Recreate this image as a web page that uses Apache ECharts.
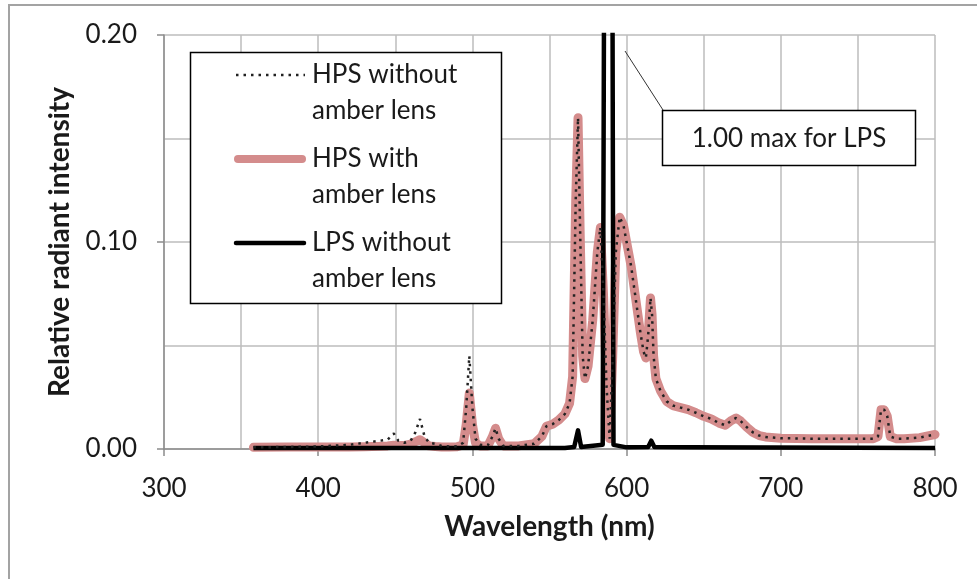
<!DOCTYPE html>
<html>
<head>
<meta charset="utf-8">
<script src="https://cdn.jsdelivr.net/npm/echarts@6/dist/echarts.min.js"></script>
<style>
html, body { margin: 0; padding: 0; background: #fff; }
#chart { width: 977px; height: 579px; }
</style>
</head>
<body>
<div id="chart"></div>
<script>
// wavelengths (nm) shared by the two HPS curves
var hpsNm = [358, 380, 400, 420, 430, 440, 445, 449, 452, 456,
    460, 463, 466, 469, 472, 476, 480, 485, 490, 494,
    496, 498, 500, 502, 505, 510, 513, 515, 517, 520,
    530, 540, 545, 548, 552, 556, 560, 563, 565, 567,
    568.5, 570, 571.5, 573, 575, 578, 581, 583, 585, 587,
    589, 591, 593, 595.5, 598, 600, 603, 606, 609, 611,
    612.5, 614, 615.5, 616.5, 617.5, 619, 622, 626, 630, 635,
    640, 645, 650, 655, 660, 664, 668, 671, 674, 678,
    682, 686, 690, 700, 720, 740, 760, 763, 765, 767,
    769, 771, 775, 780, 790, 800];

var hpsWithout = [0.0008, 0.001, 0.0012, 0.002, 0.003, 0.004, 0.0045, 0.0075, 0.004, 0.003,
    0.004, 0.008, 0.0145, 0.006, 0.003, 0.0025, 0.0015, 0.0012, 0.0013, 0.003,
    0.02, 0.045, 0.02, 0.005, 0.002, 0.0018, 0.006, 0.010, 0.005, 0.0015,
    0.0015, 0.0025, 0.006, 0.011, 0.012, 0.014, 0.017, 0.022, 0.035, 0.12,
    0.16, 0.10, 0.045, 0.034, 0.04, 0.062, 0.095, 0.107, 0.075, 0.03,
    0.005, 0.045, 0.095, 0.112, 0.108, 0.1, 0.088, 0.072, 0.056, 0.047,
    0.044, 0.055, 0.073, 0.065, 0.045, 0.034, 0.028, 0.023, 0.021, 0.02,
    0.019, 0.0175, 0.0158, 0.0145, 0.0125, 0.0115, 0.0138, 0.015, 0.0135, 0.0105,
    0.008, 0.0065, 0.0058, 0.0052, 0.005, 0.005, 0.005, 0.006, 0.019, 0.019,
    0.016, 0.006, 0.005, 0.005, 0.0055, 0.007];

var hpsWith = [0.0008, 0.001, 0.001, 0.001, 0.0011, 0.0013, 0.0015, 0.0018, 0.0017, 0.0017,
    0.0024, 0.0035, 0.0045, 0.003, 0.0015, 0.0012, 0.001, 0.001, 0.0011, 0.002,
    0.012, 0.027, 0.012, 0.003, 0.0015, 0.0015, 0.006, 0.010, 0.005, 0.0015,
    0.0015, 0.0025, 0.006, 0.011, 0.012, 0.014, 0.017, 0.022, 0.035, 0.12,
    0.16, 0.10, 0.045, 0.034, 0.04, 0.062, 0.095, 0.107, 0.075, 0.03,
    0.005, 0.045, 0.095, 0.112, 0.108, 0.1, 0.088, 0.072, 0.056, 0.047,
    0.044, 0.055, 0.073, 0.065, 0.045, 0.034, 0.028, 0.023, 0.021, 0.02,
    0.019, 0.0175, 0.0158, 0.0145, 0.0125, 0.0115, 0.0138, 0.015, 0.0135, 0.0105,
    0.008, 0.0065, 0.0058, 0.0052, 0.005, 0.005, 0.005, 0.006, 0.019, 0.019,
    0.016, 0.006, 0.005, 0.005, 0.0055, 0.007];

// LPS curve (peak at 589 nm reaches 1.00, off the chart)
var lpsNm = [358, 560, 566, 568.5, 570.5, 584.5, 588.5, 591.5, 600, 614, 616, 618, 640, 800];
var lpsVal = [0.0005, 0.0005, 0.001, 0.009, 0.001, 0.002, 1.0, 0.002, 0.0008, 0.001, 0.004, 0.001, 0.0008, 0.0005];

var seriesNames = ['HPS without\namber lens', 'HPS with\namber lens', 'LPS without\namber lens'];
var calloutText = '1.00 max for LPS';

function pairs(xs, ys) {
    var out = [];
    for (var i = 0; i < xs.length; i++) {
        out.push([xs[i], ys[i]]);
    }
    return out;
}

var FONT = 'Lato, "Open Sans", sans-serif';
var TXT = '#1a1a1a';
var PINK = '#d48c8c';

var chart = echarts.init(document.getElementById('chart'));

var option = {
    backgroundColor: '#fff',
    animation: false,
    grid: { left: 164, right: 42, top: 35, bottom: 130 },
    xAxis: {
        type: 'value',
        min: 300, max: 800, interval: 100,
        name: 'Wavelength (nm)',
        nameLocation: 'middle',
        nameGap: 64,
        nameTextStyle: { fontFamily: FONT, fontSize: 28, fontWeight: 'bold', color: TXT },
        axisLine: { show: true, lineStyle: { color: '#8c8c8c', width: 1.5 } },
        axisTick: { show: true, inside: false, length: 7, lineStyle: { color: '#8c8c8c', width: 1.5 } },
        axisLabel: { margin: 27, fontFamily: FONT, fontSize: 26, color: TXT },
        splitLine: { show: true, lineStyle: { color: '#bdbdbd', width: 1.5 } },
        minorTick: { show: false, splitNumber: 2 },
        minorSplitLine: { show: true, lineStyle: { color: '#bdbdbd', width: 1.5 } }
    },
    yAxis: {
        type: 'value',
        min: 0, max: 0.2, interval: 0.1,
        name: 'Relative radiant intensity',
        nameLocation: 'middle',
        nameGap: 90,
        nameTextStyle: { fontFamily: FONT, fontSize: 28, fontWeight: 'bold', color: TXT },
        axisLine: { show: true, lineStyle: { color: '#8c8c8c', width: 1.5 } },
        axisTick: { show: true, inside: false, length: 7, lineStyle: { color: '#8c8c8c', width: 1.5 } },
        axisLabel: {
            margin: 27, fontFamily: FONT, fontSize: 26, color: TXT,
            formatter: function(v) { return v.toFixed(2); }
        },
        splitLine: { show: true, lineStyle: { color: '#bdbdbd', width: 1.5 } },
        minorTick: { show: false, splitNumber: 2 },
        minorSplitLine: { show: true, lineStyle: { color: '#bdbdbd', width: 1.5 } }
    },
    series: [{
        name: seriesNames[1],
        type: 'line',
        symbol: 'none',
        z: 2,
        data: pairs(hpsNm, hpsWith),
        lineStyle: { color: PINK, width: 9, cap: 'round', join: 'round' }
    }, {
        name: seriesNames[2],
        type: 'line',
        symbol: 'none',
        z: 3,
        data: pairs(lpsNm, lpsVal),
        lineStyle: { color: '#000', width: 4.5, join: 'round' }
    }, {
        name: seriesNames[0],
        type: 'line',
        symbol: 'none',
        z: 4,
        data: pairs(hpsNm, hpsWithout),
        lineStyle: { color: '#222', width: 2.5, type: [2.5, 5] }
    }],
    graphic: [
        // outer chart frame
        { type: 'rect', z: 0, silent: true,
          shape: { x: 9, y: 5, width: 1000, height: 600 },
          style: { fill: null, stroke: '#a3a3a3', lineWidth: 2 } },
        // legend box
        { type: 'rect', z: 100, silent: true,
          shape: { x: 190.5, y: 52.5, width: 311, height: 251 },
          style: { fill: '#fff', stroke: '#000', lineWidth: 1.5 } },
        { type: 'line', z: 101, silent: true,
          shape: { x1: 236, y1: 75, x2: 305, y2: 75 },
          style: { stroke: '#222', lineWidth: 2.5, lineDash: [2.5, 5] } },
        { type: 'line', z: 101, silent: true,
          shape: { x1: 238, y1: 159, x2: 302, y2: 159 },
          style: { stroke: PINK, lineWidth: 8, lineCap: 'round' } },
        { type: 'line', z: 101, silent: true,
          shape: { x1: 236, y1: 243, x2: 304, y2: 243 },
          style: { stroke: '#000', lineWidth: 4.5, lineCap: 'round' } },
        { type: 'text', z: 101, silent: true,
          style: { text: seriesNames[0], x: 312, y: 57, lineHeight: 36, verticalAlign: 'top',
                   font: '26px ' + FONT, fill: TXT } },
        { type: 'text', z: 101, silent: true,
          style: { text: seriesNames[1], x: 312, y: 141, lineHeight: 36, verticalAlign: 'top',
                   font: '26px ' + FONT, fill: TXT } },
        { type: 'text', z: 101, silent: true,
          style: { text: seriesNames[2], x: 312, y: 225, lineHeight: 36, verticalAlign: 'top',
                   font: '26px ' + FONT, fill: TXT } },
        // callout for the LPS peak
        { type: 'line', z: 100, silent: true,
          shape: { x1: 625, y1: 51, x2: 663, y2: 110 },
          style: { stroke: '#333', lineWidth: 1 } },
        { type: 'rect', z: 100, silent: true,
          shape: { x: 662.5, y: 110.5, width: 253, height: 55 },
          style: { fill: '#fff', stroke: '#000', lineWidth: 1.5 } },
        { type: 'text', z: 101, silent: true,
          style: { text: calloutText, x: 789, y: 139, align: 'center', verticalAlign: 'middle',
                   font: '26px ' + FONT, fill: TXT } }
    ]
};

chart.setOption(option);
</script>
</body>
</html>
